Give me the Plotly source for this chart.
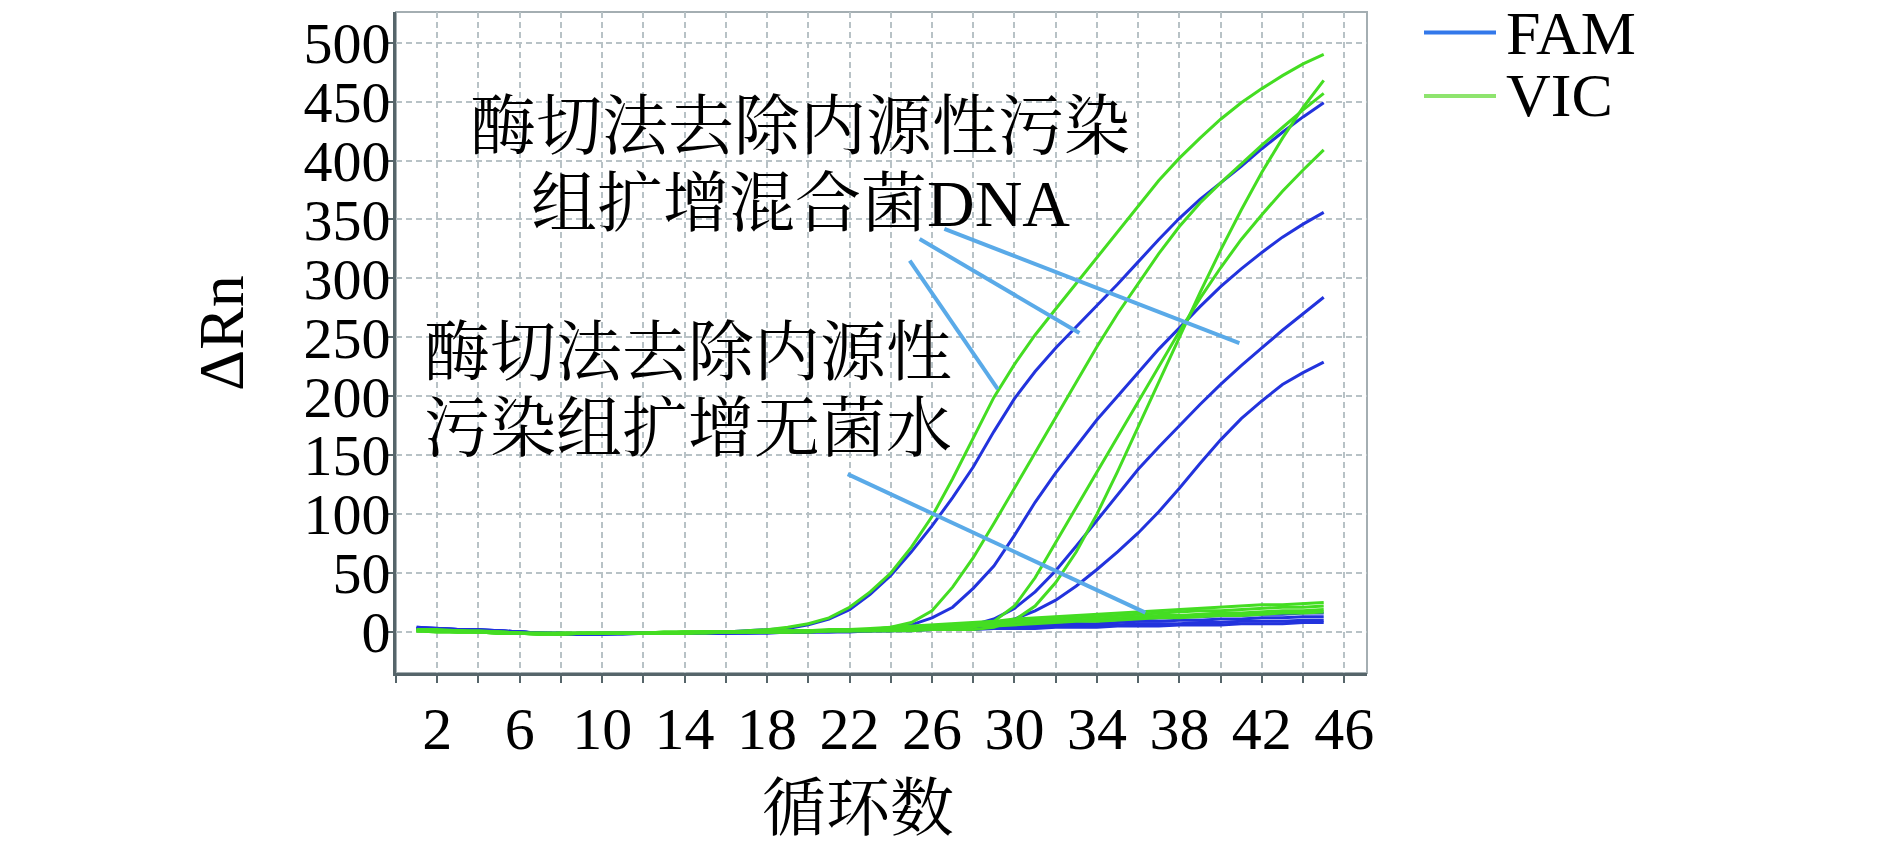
import plotly.graph_objects as go

# Real-time PCR amplification data: delta Rn per cycle
cycles = list(range(1, 46))

# FAM channel (blue)
fam_1 = [4, 3, 2, 2, 1, 0, -1, -2, -1, -1,
         -1, -1, -1, -1, 0, 0, 1, 2, 3, 6,
         11, 19, 32, 48, 68, 90, 114, 140, 170, 198,
         221, 241, 259, 277, 295, 314, 333, 351, 367, 381,
         395, 410, 424, 437, 449]
fam_2 = [3, 3, 2, 1, 1, 0, -1, -1, -2, -1,
         -1, -1, -1, -1, -1, 0, 0, 0, 1, 1,
         1, 2, 2, 3, 6, 12, 21, 37, 56, 82,
         110, 135, 158, 180, 200, 220, 240, 258, 276, 293,
         308, 322, 335, 346, 356]
fam_3 = [2, 2, 2, 1, 0, 0, -1, -1, -1, -1,
         -1, -1, -1, -1, -1, 0, 0, 0, 0, 1,
         1, 1, 1, 2, 2, 2, 3, 6, 11, 20,
         34, 52, 73, 95, 117, 138, 157, 175, 193, 210,
         226, 241, 256, 270, 284]
fam_4 = [3, 2, 2, 1, 1, 0, -1, -2, -2, -1,
         -1, -1, -1, -1, -1, -1, 0, 0, 0, 0,
         1, 1, 1, 1, 2, 2, 2, 3, 6, 11,
         18, 27, 39, 53, 68, 84, 102, 122, 143, 163,
         181, 196, 210, 220, 229]
fam_5 = [4, 3, 2, 2, 1, 0, -1, -2, -2, -1,
         -1, -1, -1, -1, -1, 0, 0, 0, 0, 1,
         1, 1, 2, 2, 3, 3, 4, 5, 6, 7,
         8, 8, 9, 10, 11, 11, 12, 13, 13, 14,
         14, 15, 15, 16, 16]
fam_6 = [3, 3, 2, 1, 1, 0, -1, -1, -2, -2,
         -1, -1, -1, -1, -1, -1, 0, 0, 0, 0,
         1, 1, 1, 2, 2, 3, 3, 4, 4, 5,
         6, 6, 7, 7, 8, 9, 9, 10, 10, 11,
         11, 12, 12, 13, 13]
fam_7 = [3, 2, 2, 1, 0, 0, -1, -2, -2, -2,
         -1, -1, -1, -1, -1, -1, -1, 0, 0, 0,
         0, 1, 1, 1, 2, 2, 2, 3, 3, 4,
         4, 5, 5, 6, 6, 7, 7, 7, 8, 8,
         9, 9, 9, 10, 10]
fam_8 = [2, 2, 1, 1, 0, -1, -1, -1, -2, -2,
         -2, -1, -1, -1, -1, -1, -1, -1, 0, 0,
         0, 0, 1, 1, 1, 2, 2, 2, 3, 3,
         3, 4, 4, 4, 5, 5, 5, 6, 6, 6,
         7, 7, 7, 8, 8]

# VIC channel (green)
vic_1 = [2, 2, 1, 1, 0, -1, -2, -1, -1, -1,
         -1, -1, 0, 0, 0, 0, 1, 2, 4, 7,
         12, 21, 34, 50, 72, 98, 130, 165, 199, 227,
         252, 274, 296, 318, 340, 362, 383, 402, 419, 435,
         449, 461, 472, 482, 490]
vic_2 = [1, 1, 1, 0, 0, -1, -2, -2, -1, -1,
         -1, -1, -1, 0, 0, 0, 0, 0, 1, 1,
         1, 1, 2, 4, 8, 18, 38, 63, 92, 122,
         152, 182, 212, 242, 270, 296, 321, 344, 364, 381,
         397, 413, 428, 443, 457]
vic_3 = [1, 1, 0, 0, -1, -1, -2, -1, -1, -1,
         -1, -1, -1, 0, 0, 0, 0, 0, 0, 1,
         1, 1, 1, 1, 2, 2, 2, 4, 9, 22,
         46, 76, 106, 136, 166, 196, 226, 255, 283, 309,
         333, 354, 374, 392, 409]
vic_4 = [1, 0, 0, 0, -1, -1, -1, -2, -1, -1,
         -1, -1, -1, -1, 0, 0, 0, 0, 0, 0,
         1, 1, 1, 1, 1, 2, 2, 2, 4, 10,
         22, 42, 68, 100, 136, 174, 212, 250, 288, 324,
         358, 390, 419, 445, 468]
vic_5 = [2, 1, 1, 0, 0, -1, -1, -1, -1, -1,
         -1, -1, 0, 0, 0, 0, 0, 1, 1, 1,
         2, 2, 3, 4, 5, 6, 7, 8, 9, 11,
         12, 13, 14, 15, 16, 17, 18, 19, 20, 21,
         22, 23, 23, 24, 25]
vic_6 = [1, 1, 0, 0, -1, -1, -2, -2, -1, -1,
         -1, -1, -1, 0, 0, 0, 0, 0, 1, 1,
         1, 2, 2, 3, 4, 5, 6, 7, 8, 9,
         10, 11, 12, 13, 14, 15, 16, 17, 18, 18,
         19, 20, 21, 21, 22]
vic_7 = [1, 0, 0, 0, -1, -1, -1, -1, -1, -1,
         -1, -1, -1, -1, 0, 0, 0, 0, 0, 1,
         1, 1, 2, 2, 3, 4, 5, 6, 7, 8,
         9, 9, 10, 11, 12, 13, 14, 14, 15, 16,
         16, 17, 18, 18, 19]
vic_8 = [1, 1, 0, 0, 0, -1, -1, -1, -1, -1,
         -1, -1, -1, -1, -1, 0, 0, 0, 0, 0,
         1, 1, 1, 2, 2, 3, 4, 5, 5, 6,
         7, 8, 9, 9, 10, 11, 12, 12, 13, 14,
         14, 15, 16, 16, 17]

# Axis ticks
x_tick_vals = list(range(0, 47, 2))
x_tick_text = ["", "2", "", "6", "", "10", "", "14", "", "18", "", "22",
               "", "26", "", "30", "", "34", "", "38", "", "42", "", "46"]
y_tick_vals = list(range(0, 501, 50))

# Leader lines for the callouts (cycle, delta Rn)
leader_x0 = [26.60, 25.40, 24.92, 21.91]
leader_y0 = [341.9, 333.4, 315.0, 133.9]
leader_x1 = [40.91, 33.15, 29.19, 36.35]
leader_y1 = [245.1, 253.6, 206.0, 16.4]

BLUE = "#2233dd"
GREEN = "#44dd22"
SERIF = "Liberation Serif, 'Noto Serif CJK SC', 'Noto Sans CJK SC', serif"
AXIS = "#56656a"

fig = go.Figure()

for ys in [fam_1, fam_2, fam_3, fam_4, fam_5, fam_6, fam_7, fam_8]:
    fig.add_trace(go.Scatter(x=cycles, y=ys, mode="lines",
                             line=dict(color=BLUE, width=3),
                             showlegend=False, hoverinfo="skip"))
for ys in [vic_1, vic_2, vic_3, vic_4, vic_5, vic_6, vic_7, vic_8]:
    fig.add_trace(go.Scatter(x=cycles, y=ys, mode="lines",
                             line=dict(color=GREEN, width=3),
                             showlegend=False, hoverinfo="skip"))

L, R, T, B = 396, 1367, 12, 673
W, H = 1890, 850
pw, ph = R - L, B - T


def px_x(px):
    return (px - L) / pw


def px_y(py):
    return (B - py) / ph


shapes = []
# light frame on top/right
shapes.append(dict(type="rect", xref="paper", yref="paper", x0=0, y0=0, x1=1, y1=1,
                   line=dict(color="#a4aeb2", width=2), layer="below"))
# callout leader lines
for x0, y0, x1, y1 in zip(leader_x0, leader_y0, leader_x1, leader_y1):
    shapes.append(dict(type="line", xref="x", yref="y", x0=x0, y0=y0, x1=x1, y1=y1,
                       line=dict(color="#5aaae8", width=4)))
# legend swatches
shapes.append(dict(type="line", xref="paper", yref="paper",
                   x0=px_x(1424), x1=px_x(1496), y0=px_y(32.5), y1=px_y(32.5),
                   line=dict(color="#3378ea", width=4)))
shapes.append(dict(type="line", xref="paper", yref="paper",
                   x0=px_x(1424), x1=px_x(1496), y0=px_y(96), y1=px_y(96),
                   line=dict(color="#8ee46e", width=4)))

annotations = []


def txt(text, px, py, size, anchor="center", angle=0):
    annotations.append(dict(text=text, xref="paper", yref="paper",
                            x=px_x(px), y=px_y(py), xanchor=anchor, yanchor="middle",
                            showarrow=False, textangle=angle,
                            font=dict(family=SERIF, size=size, color="black")))


txt("酶切法去除内源性污染", 800, 126, 66)
txt("组扩增混合菌DNA", 800, 204, 66)
txt("酶切法去除内源性", 422, 353, 66, anchor="left")
txt("污染组扩增无菌水", 422, 429, 66, anchor="left")
txt("FAM", 1504, 33, 62, anchor="left")
txt("VIC", 1504, 95, 62, anchor="left")
txt("ΔRn", 221, 333, 64, angle=-90)
txt("循环数", 858, 808, 64)

fig.update_layout(
    width=W, height=H,
    margin=dict(l=L, r=W - R, t=T, b=H - B, pad=0),
    paper_bgcolor="white", plot_bgcolor="white",
    showlegend=False,
    shapes=shapes,
    annotations=annotations,
)
fig.update_xaxes(range=[0, 47.1], tickmode="array", tickvals=x_tick_vals, ticktext=x_tick_text,
                 ticks="outside", ticklen=7, tickwidth=2, tickcolor=AXIS,
                 showline=True, linecolor=AXIS, linewidth=3,
                 showgrid=True, gridcolor="#b8c2c6", griddash="6px,4px", gridwidth=1.5,
                 zeroline=False, ticklabelstandoff=-6,
                 tickfont=dict(family=SERIF, size=60, color="black"))
fig.update_yaxes(range=[-34.8, 526], tickmode="array", tickvals=y_tick_vals,
                 ticks="outside", ticklen=6, tickwidth=2, tickcolor=AXIS,
                 showline=True, linecolor=AXIS, linewidth=3,
                 showgrid=True, gridcolor="#b8c2c6", griddash="6px,4px", gridwidth=1.5,
                 zeroline=False, ticklabelstandoff=-15,
                 tickfont=dict(family=SERIF, size=58, color="black"))

fig.write_html("out.html")
